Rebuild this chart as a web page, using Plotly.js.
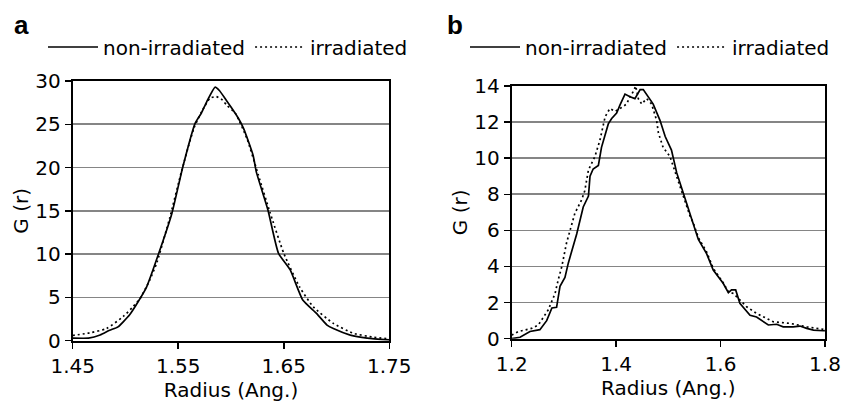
<!DOCTYPE html>
<html>
<head>
<meta charset="utf-8">
<script src="https://cdn.plot.ly/plotly-3.0.1.min.js"></script>
<style>html,body{margin:0;padding:0;background:#fff;}#chart{width:843px;height:407px;}</style>
</head>
<body>
<div id="chart"></div>
<script>
// Panel a data
const xaNon = [1.45,1.465,1.476,1.485,1.493,1.504,1.512,1.520,1.531,1.544,1.554,1.566,1.572,1.577,1.585,1.589,1.596,1.600,1.607,1.612,1.621,1.624,1.635,1.645,1.656,1.668,1.681,1.691,1.697,1.713,1.729,1.75];
const yaNon = [0.3,0.3,0.65,1.2,1.6,3.0,4.5,6.2,9.9,14.7,19.9,25.1,26.3,27.6,29.3,28.9,27.7,27.0,25.7,24.5,21.4,19.5,15.1,10.1,8.2,4.7,3.16,1.8,1.4,0.65,0.3,0.1];
const xaIrr = [1.45,1.466,1.482,1.498,1.507,1.514,1.523,1.530,1.542,1.553,1.565,1.572,1.580,1.586,1.592,1.596,1.604,1.615,1.626,1.637,1.650,1.665,1.678,1.697,1.716,1.735,1.75];
const yaIrr = [0.6,0.9,1.4,2.8,3.9,4.9,7.0,9.1,14.2,19.5,24.6,26.4,28.0,28.2,27.8,27.2,26.3,23.4,19.1,14.8,10.1,6.2,3.9,2.0,0.85,0.4,0.2];

// Panel b data
const xbNon = [1.2,1.216,1.235,1.254,1.267,1.277,1.286,1.2925,1.302,1.3085,1.3245,1.337,1.347,1.35,1.356,1.366,1.372,1.385,1.3915,1.401,1.4075,1.417,1.4265,1.436,1.446,1.452,1.471,1.484,1.494,1.506,1.516,1.5255,1.535,1.545,1.551,1.5575,1.5735,1.586,1.605,1.615,1.621,1.629,1.637,1.6565,1.669,1.6915,1.7075,1.72,1.739,1.752,1.765,1.778,1.797,1.8];
const ybNon = [0,0.08,0.4,0.5,1.0,1.7,1.74,2.9,3.4,4.2,5.8,7.3,7.9,9.0,9.4,9.6,10.6,11.9,12.2,12.5,12.95,13.55,13.4,13.3,13.8,13.8,13.0,12.1,11.2,10.45,9.2,8.4,7.5,6.6,6.0,5.5,4.7,3.8,3.07,2.55,2.7,2.7,1.96,1.3,1.2,0.76,0.8,0.66,0.66,0.7,0.57,0.48,0.44,0.45];
const xbIrr = [1.2,1.213,1.238,1.251,1.27,1.283,1.289,1.296,1.305,1.315,1.321,1.334,1.340,1.347,1.3595,1.369,1.379,1.388,1.398,1.4075,1.420,1.4265,1.433,1.4375,1.4425,1.449,1.4585,1.468,1.4775,1.481,1.490,1.503,1.516,1.5285,1.5415,1.548,1.5575,1.5735,1.586,1.605,1.615,1.625,1.637,1.65,1.669,1.701,1.733,1.765,1.797,1.8];
const ybIrr = [0.2,0.4,0.57,0.76,1.6,2.5,3.25,4.0,5.3,6.3,6.95,7.7,8.2,9.35,10.1,11.0,12.3,12.75,12.6,12.75,13.0,13.4,13.7,14.0,13.3,13.0,13.3,13.0,12.1,11.4,10.6,10.1,9.0,7.9,6.8,6.4,5.6,4.8,3.9,3.1,2.6,2.5,2.13,1.77,1.4,0.94,0.85,0.66,0.52,0.5];

const seriesNames = ['non-irradiated', 'irradiated'];
const panelLabels = ['a', 'b'];
const xTicksA = [1.45, 1.55, 1.65, 1.75];
const xTicksB = [1.2, 1.4, 1.6, 1.8];

const FONT = 'DejaVu Sans, Liberation Sans, Arial, sans-serif';
const FS = 20;

const solid = {color: '#000', width: 1.7};
const dotted = {color: '#000', width: 1.7, dash: '2px,3px'};

const traces = [
  {x: xaNon, y: yaNon, name: seriesNames[0], mode: 'lines', line: Object.assign({shape: 'spline', smoothing: 0.5}, solid), xaxis: 'x', yaxis: 'y', legend: 'legend'},
  {x: xaIrr, y: yaIrr, name: seriesNames[1], mode: 'lines', line: Object.assign({shape: 'spline', smoothing: 0.5}, dotted), xaxis: 'x', yaxis: 'y', legend: 'legend'},
  {x: xbNon, y: ybNon, name: seriesNames[0], mode: 'lines', line: solid, xaxis: 'x2', yaxis: 'y2', legend: 'legend2'},
  {x: xbIrr, y: ybIrr, name: seriesNames[1], mode: 'lines', line: dotted, xaxis: 'x2', yaxis: 'y2', legend: 'legend2'}
];

function xax(domain, range, ticks, anchor) {
  return {
    domain: domain, range: range, anchor: anchor,
    tickmode: 'array', tickvals: ticks, ticktext: ticks.map(v => String(v)),
    showgrid: false, zeroline: false,
    showline: true, mirror: true, linecolor: '#000', linewidth: 2,
    ticks: 'outside', ticklen: 6, tickwidth: 1.5, tickcolor: '#000',
    tickfont: {family: FONT, size: FS, color: '#000'},
    title: {text: 'Radius (Ang.)', font: {family: FONT, size: FS, color: '#000'}, standoff: 6},
    automargin: false, fixedrange: true
  };
}
function yax(domain, range, dtick, anchor) {
  return {
    domain: domain, range: range, anchor: anchor,
    tick0: 0, dtick: dtick,
    showgrid: true, gridcolor: '#858585', gridwidth: 1.6, zeroline: false,
    showline: true, mirror: true, linecolor: '#000', linewidth: 2,
    ticks: 'outside', ticklen: 6, tickwidth: 1.5, tickcolor: '#000',
    tickfont: {family: FONT, size: FS, color: '#000'},
    title: {text: 'G (r)', font: {family: FONT, size: FS, color: '#000'}, standoff: 1},
    automargin: false, fixedrange: true
  };
}

const legendBase = {
  orientation: 'h', xanchor: 'left', yanchor: 'middle',
  font: {family: FONT, size: FS, color: '#000'},
  bgcolor: 'rgba(0,0,0,0)', borderwidth: 0, itemwidth: 50, tracegroupgap: 0
};

const layout = {
  width: 843, height: 407,
  margin: {l: 0, r: 0, t: 0, b: 0},
  paper_bgcolor: '#fff', plot_bgcolor: '#fff',
  showlegend: true,
  xaxis: xax([0.0862, 0.4618], [1.45, 1.75], xTicksA, 'y'),
  yaxis: yax([0.1629, 0.801], [0, 30], 5, 'x'),
  xaxis2: xax([0.607, 0.9786], [1.2, 1.8], xTicksB, 'y2'),
  yaxis2: yax([0.1678, 0.7887], [0, 14], 2, 'x2'),
  legend: Object.assign({x: 43/843, y: 1 - 47/407}, legendBase),
  legend2: Object.assign({x: 465/843, y: 1 - 47/407}, legendBase),
  annotations: [
    {text: '<b>' + panelLabels[0] + '</b>', xref: 'paper', yref: 'paper', x: 12/843, y: 1 - 25/407, xanchor: 'left', yanchor: 'middle', showarrow: false, font: {family: 'Liberation Sans, Arial, sans-serif', size: 26, color: '#000'}},
    {text: '<b>' + panelLabels[1] + '</b>', xref: 'paper', yref: 'paper', x: 445/843, y: 1 - 25/407, xanchor: 'left', yanchor: 'middle', showarrow: false, font: {family: 'Liberation Sans, Arial, sans-serif', size: 26, color: '#000'}}
  ]
};

Plotly.newPlot('chart', traces, layout, {displayModeBar: false, staticPlot: true});
</script>
</body>
</html>
